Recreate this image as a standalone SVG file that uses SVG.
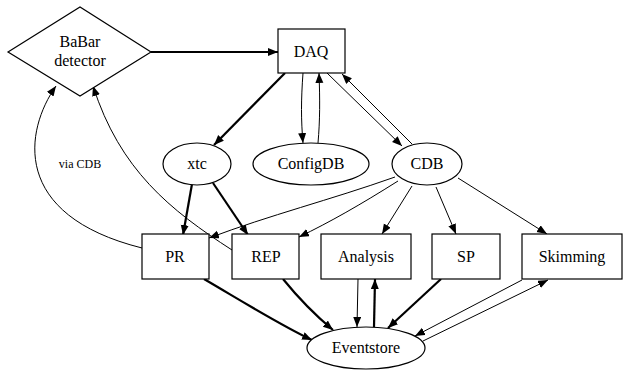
<svg xmlns="http://www.w3.org/2000/svg" width="624" height="370" viewBox="0 0 624 370">
<defs>
<style>
.n{fill:#fff;stroke:#000;stroke-width:1.2}
.t{font-family:'Liberation Serif','Times New Roman',serif;font-size:16px;text-anchor:middle;fill:#000}
.s{font-family:'Liberation Serif','Times New Roman',serif;font-size:12px;text-anchor:middle;fill:#000}
.e{fill:none;stroke:#000;stroke-width:1;marker-end:url(#a)}
.b{fill:none;stroke:#000;stroke-width:2.2;marker-end:url(#a)}
</style>
<marker id="a" markerUnits="userSpaceOnUse" markerWidth="12" markerHeight="10" refX="10" refY="4" orient="auto">
<path d="M0,0 L10,4 L0,8 Z" fill="#000"/>
</marker>
</defs>
<rect width="624" height="370" fill="#fff"/>
<g id="edges">
<path class="b" d="M151,52 L278,52"/>
<path class="b" d="M285,73 L214,145"/>
<path class="e" d="M303,73 C301,100 301,120 303,143"/>
<path class="e" d="M318,143 C320,120 320,100 319,73"/>
<path class="e" d="M327,73 L402,146"/>
<path class="e" d="M412,144 L342,74"/>
<path class="b" d="M192,184 L183,235"/>
<path class="b" d="M213,183 L248,235"/>
<path class="e" d="M395,177 C330,200 270,215 209,238"/>
<path class="e" d="M398,181 C360,205 330,222 299,237"/>
<path class="e" d="M412,186 L382,234"/>
<path class="e" d="M436,187 L456,234"/>
<path class="e" d="M458,178 L547,234"/>
<path class="e" d="M142,248 C10,215 25,130 56,86"/>
<path class="e" d="M232,250 C170,210 120,170 93,86"/>
<path class="b" d="M204,279 C240,300 280,325 312,340"/>
<path class="b" d="M283,279 C300,300 315,315 333,330"/>
<path class="e" d="M358,279 L357,327"/>
<path class="b" d="M374,327 L375,279"/>
<path class="b" d="M441,279 L388,328"/>
<path class="e" d="M522,280 L415,336"/>
<path class="e" d="M423,341 L548,280"/>
<text class="s" x="80" y="168">via CDB</text>
</g>
<g id="babar"><polygon class="n" points="8,52 80,7 151,52 80,96"/><text class="t" x="80" y="47">BaBar</text><text class="t" x="80" y="66">detector</text></g>
<g id="daq"><rect class="n" x="278" y="29" width="67" height="44"/><text class="t" x="311" y="57">DAQ</text></g>
<g id="xtc"><ellipse class="n" cx="197" cy="164" rx="34" ry="21"/><text class="t" x="197" y="169">xtc</text></g>
<g id="configdb"><ellipse class="n" cx="311" cy="164" rx="58" ry="21"/><text class="t" x="311" y="169">ConfigDB</text></g>
<g id="cdb"><ellipse class="n" cx="427" cy="164" rx="35" ry="21"/><text class="t" x="427" y="169">CDB</text></g>
<g id="pr"><rect class="n" x="142" y="234" width="67" height="45"/><text class="t" x="175" y="262">PR</text></g>
<g id="rep"><rect class="n" x="232" y="234" width="67" height="45"/><text class="t" x="266" y="262">REP</text></g>
<g id="analysis"><rect class="n" x="321" y="234" width="90" height="45"/><text class="t" x="366" y="262">Analysis</text></g>
<g id="sp"><rect class="n" x="432" y="234" width="68" height="45"/><text class="t" x="466" y="262">SP</text></g>
<g id="skimming"><rect class="n" x="522" y="234" width="100" height="45"/><text class="t" x="572" y="262">Skimming</text></g>
<g id="eventstore"><ellipse class="n" cx="366" cy="348" rx="59" ry="21"/><text class="t" x="366" y="353">Eventstore</text></g>
</svg>
